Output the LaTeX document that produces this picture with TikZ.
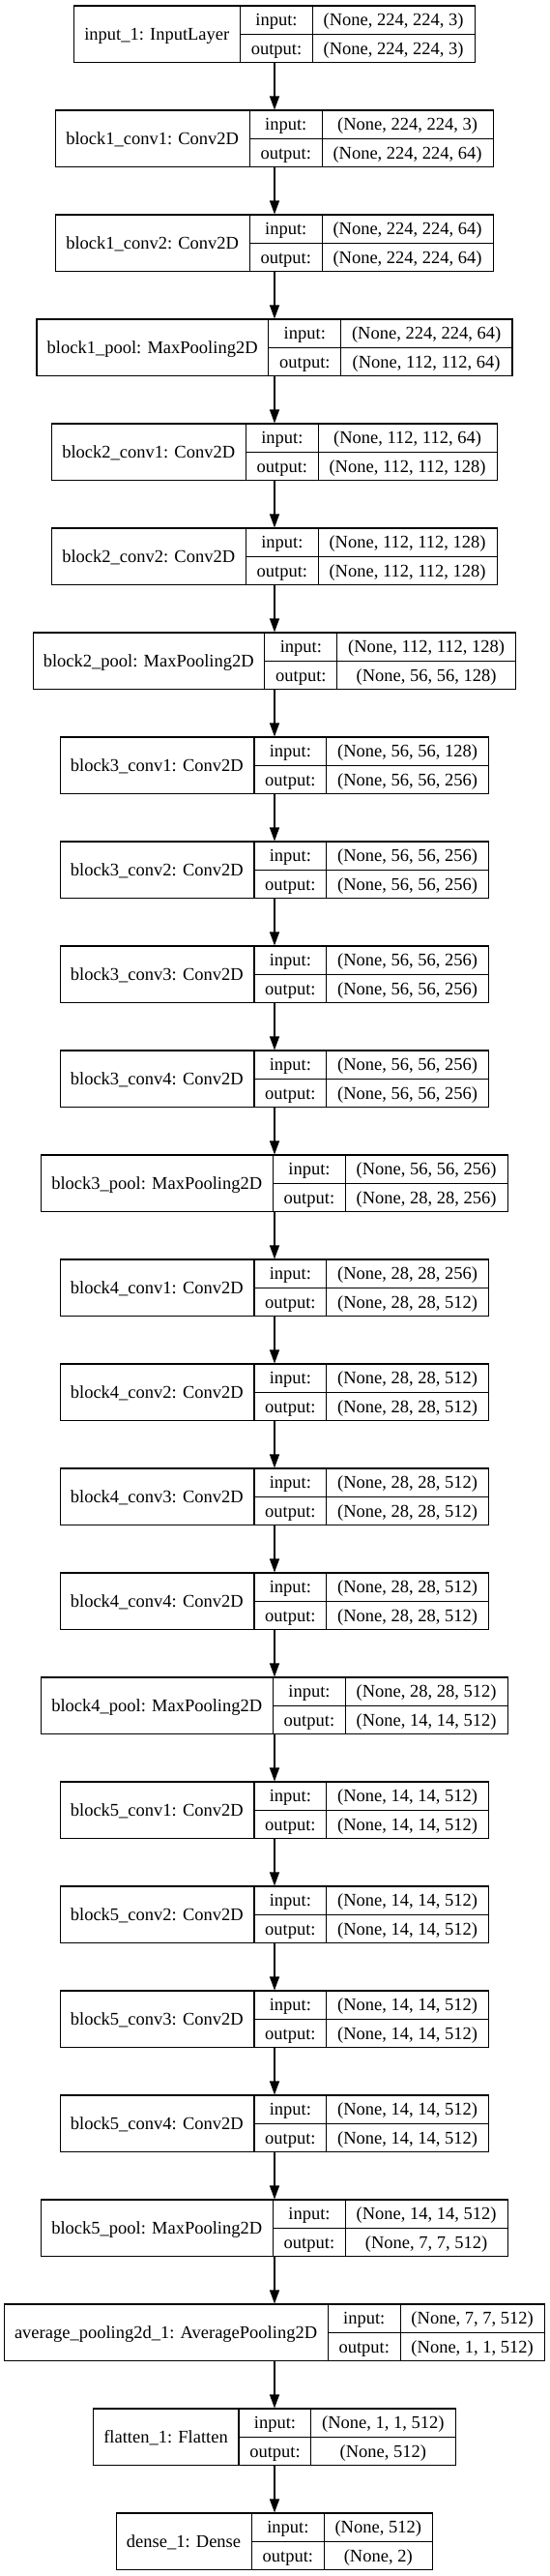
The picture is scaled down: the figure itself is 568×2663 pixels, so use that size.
\documentclass[tikz,border=0pt]{standalone}
\usepackage{fontspec}
\setmainfont{Liberation Serif}
\usetikzlibrary{arrows.meta}
\newcommand\boxfont{\fontsize{18.5pt}{22pt}\selectfont}
\newlength\lenA \newlength\lenB \newlength\lenC \newlength\lenD
\newcommand\measureto[2]{%
  \pgfinterruptpicture
  \setbox0=\hbox{\rmfamily\mdseries\upshape\boxfont #2}%
  \global#1=\wd0
  \endpgfinterruptpicture}
\def\padw{22.5}
\tikzset{
  layerbox/.style={draw, line width=1.1pt, inner sep=0pt, minimum height=58.5pt},
  divider/.style={line width=1.1pt},
  txt/.style={inner sep=0pt, font=\boxfont, anchor=base},
  arr/.style={line width=1.1pt, -{Triangle[length=14pt,width=10pt]}}
}
% #1 name, #2 index, #3 label, #4 input, #5 output
\newcommand\layer[5]{%
  \measureto\lenA{#3}%
  \measureto\lenB{output:}%
  \measureto\lenC{#4}%
  \measureto\lenD{#5}%
  \pgfmathsetmacro\wa{\lenA+\padw}%
  \pgfmathsetmacro\wb{\lenB+\padw}%
  \pgfmathsetmacro\wc{max(\lenC,\lenD)+\padw}%
  \pgfmathsetmacro\ww{\wa+\wb+\wc}%
  \pgfmathsetmacro\yc{-(6+108*#2+29.25)}%
  \pgfmathsetmacro\xa{\wa/2}%
  \pgfmathsetmacro\xb{\wa+\wb/2}%
  \pgfmathsetmacro\xc{\wa+\wb+\wc/2}%
  \pgfmathsetmacro\xd{\wa+\wb}%
  \node[layerbox, minimum width=\ww pt] (#1) at (284,\yc) {};
  \draw[divider] ([xshift=\wa pt]#1.north west) -- ([xshift=\wa pt]#1.south west);
  \draw[divider] ([xshift=\xd pt]#1.north west) -- ([xshift=\xd pt]#1.south west);
  \draw[divider] ([xshift=\wa pt]#1.west) -- (#1.east);
  \node[txt] (#1-l) at ([xshift=\xa pt, yshift=-35.95pt]#1.north west) {#3};
  \node[txt] (#1-i) at ([xshift=\xb pt, yshift=-21.3pt]#1.north west) {input:};
  \node[txt] (#1-o) at ([xshift=\xb pt, yshift=-50.6pt]#1.north west) {output:};
  \node[txt] (#1-iv) at ([xshift=\xc pt, yshift=-21.3pt]#1.north west) {#4};
  \node[txt] (#1-ov) at ([xshift=\xc pt, yshift=-50.6pt]#1.north west) {#5};
}
\begin{document}
\begin{tikzpicture}[x=1pt,y=1pt]
\fill[white] (0,0) rectangle (568,-2663);
\useasboundingbox (0,0) rectangle (568,-2663);
\layer{L0}{0}{input\_1: InputLayer}{(None, 224, 224, 3)}{(None, 224, 224, 3)}
\layer{L1}{1}{block1\_conv1: Conv2D}{(None, 224, 224, 3)}{(None, 224, 224, 64)}
\layer{L2}{2}{block1\_conv2: Conv2D}{(None, 224, 224, 64)}{(None, 224, 224, 64)}
\layer{L3}{3}{block1\_pool: MaxPooling2D}{(None, 224, 224, 64)}{(None, 112, 112, 64)}
\layer{L4}{4}{block2\_conv1: Conv2D}{(None, 112, 112, 64)}{(None, 112, 112, 128)}
\layer{L5}{5}{block2\_conv2: Conv2D}{(None, 112, 112, 128)}{(None, 112, 112, 128)}
\layer{L6}{6}{block2\_pool: MaxPooling2D}{(None, 112, 112, 128)}{(None, 56, 56, 128)}
\layer{L7}{7}{block3\_conv1: Conv2D}{(None, 56, 56, 128)}{(None, 56, 56, 256)}
\layer{L8}{8}{block3\_conv2: Conv2D}{(None, 56, 56, 256)}{(None, 56, 56, 256)}
\layer{L9}{9}{block3\_conv3: Conv2D}{(None, 56, 56, 256)}{(None, 56, 56, 256)}
\layer{L10}{10}{block3\_conv4: Conv2D}{(None, 56, 56, 256)}{(None, 56, 56, 256)}
\layer{L11}{11}{block3\_pool: MaxPooling2D}{(None, 56, 56, 256)}{(None, 28, 28, 256)}
\layer{L12}{12}{block4\_conv1: Conv2D}{(None, 28, 28, 256)}{(None, 28, 28, 512)}
\layer{L13}{13}{block4\_conv2: Conv2D}{(None, 28, 28, 512)}{(None, 28, 28, 512)}
\layer{L14}{14}{block4\_conv3: Conv2D}{(None, 28, 28, 512)}{(None, 28, 28, 512)}
\layer{L15}{15}{block4\_conv4: Conv2D}{(None, 28, 28, 512)}{(None, 28, 28, 512)}
\layer{L16}{16}{block4\_pool: MaxPooling2D}{(None, 28, 28, 512)}{(None, 14, 14, 512)}
\layer{L17}{17}{block5\_conv1: Conv2D}{(None, 14, 14, 512)}{(None, 14, 14, 512)}
\layer{L18}{18}{block5\_conv2: Conv2D}{(None, 14, 14, 512)}{(None, 14, 14, 512)}
\layer{L19}{19}{block5\_conv3: Conv2D}{(None, 14, 14, 512)}{(None, 14, 14, 512)}
\layer{L20}{20}{block5\_conv4: Conv2D}{(None, 14, 14, 512)}{(None, 14, 14, 512)}
\layer{L21}{21}{block5\_pool: MaxPooling2D}{(None, 14, 14, 512)}{(None, 7, 7, 512)}
\layer{L22}{22}{average\_pooling2d\_1: AveragePooling2D}{(None, 7, 7, 512)}{(None, 1, 1, 512)}
\layer{L23}{23}{flatten\_1: Flatten}{(None, 1, 1, 512)}{(None, 512)}
\layer{L24}{24}{dense\_1: Dense}{(None, 512)}{(None, 2)}
\foreach \a [evaluate=\a as \b using int(\a+1)] in {0,...,23}
  \draw[arr] (L\a.south) -- (L\b.north);
\end{tikzpicture}
\end{document}
